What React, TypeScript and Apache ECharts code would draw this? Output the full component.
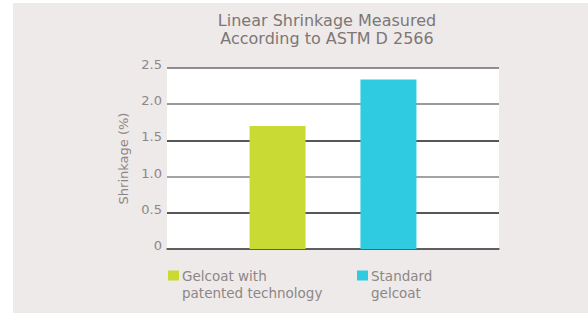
import React, { useEffect, useRef } from "react";
import * as echarts from "echarts";

const categories = ["ASTM D 2566"];
const seriesNames = ["Gelcoat with\npatented technology", "Standard\ngelcoat"];
const seriesValues = [[1.7], [2.34]];
const seriesColors = ["#c9da34", "#2fcbe0"];
const yTicks = [0, 0.5, 1.0, 1.5, 2.0, 2.5];
const titleText = "Linear Shrinkage Measured\nAccording to ASTM D 2566";
const yAxisName = "Shrinkage (%)";

const FONT = "'DejaVu Sans', sans-serif";
const TEXT_GRAY = "#8c8787";

export default function App() {
  const ref = useRef<HTMLDivElement>(null);
  useEffect(() => {
    document.body.style.margin = "0";
    if (!ref.current) return;
    const chart = echarts.init(ref.current, null, { renderer: "svg" });
    const legendLefts = [168, 357];
    chart.setOption({
      animation: false,
      backgroundColor: "#ffffff",
      graphic: [
        {
          type: "rect",
          z: -100,
          shape: { x: 13, y: 3, width: 575, height: 310 },
          style: { fill: "#eeeae9" },
          silent: true,
        },
      ],
      title: {
        text: titleText,
        left: 327,
        top: 11,
        padding: 0,
        textAlign: "center",
        textStyle: {
          fontFamily: FONT,
          fontSize: 16,
          fontWeight: "normal",
          color: "#7d7676",
          lineHeight: 18,
        },
      },
      legend: seriesNames.map((n, i) => ({
        data: [n],
        left: legendLefts[i],
        top: 250,
        padding: 0,
        itemWidth: 11,
        itemHeight: 10,
        icon: "rect",
        selectedMode: false,
        formatter: (name: string) => "\n" + name,
        textStyle: {
          fontFamily: FONT,
          fontSize: 13.5,
          color: TEXT_GRAY,
          lineHeight: 17,
          padding: [0, 0, 0, -2],
        },
      })),
      grid: {
        left: 167,
        right: 89,
        top: 68,
        bottom: 64,
        show: true,
        backgroundColor: "#ffffff",
        borderWidth: 0,
      },
      xAxis: {
        type: "category",
        data: categories,
        axisLine: { show: true, lineStyle: { color: "#555555", width: 1.5 } },
        axisTick: { show: false },
        axisLabel: { show: false },
      },
      yAxis: {
        type: "value",
        min: yTicks[0],
        max: yTicks[yTicks.length - 1],
        interval: 0.5,
        name: yAxisName,
        nameLocation: "middle",
        nameGap: 32,
        nameTextStyle: { fontFamily: FONT, fontSize: 13, color: TEXT_GRAY },
        axisLine: { show: false },
        axisTick: { show: false },
        axisLabel: {
          margin: 5,
          fontFamily: FONT,
          fontSize: 13,
          color: TEXT_GRAY,
          verticalAlign: "bottom",
          lineHeight: 7,
          formatter: (v: number) => (v === 0 ? "0" : v.toFixed(1)),
        },
        splitLine: {
          show: true,
          lineStyle: {
            color: ["#555555", "#1f1f1f", "#858585", "#1f1f1f", "#7a7a7a", "#6c6c6c"],
            width: 1.6,
          },
        },
      },
      series: seriesNames.map((n, i) => ({
        name: n,
        type: "bar",
        data: seriesValues[i],
        barWidth: 56,
        barGap: "98%",
        itemStyle: { color: seriesColors[i] },
      })),
    });
    return () => chart.dispose();
  }, []);
  return <div ref={ref} style={{ width: 588, height: 313 }} />;
}
